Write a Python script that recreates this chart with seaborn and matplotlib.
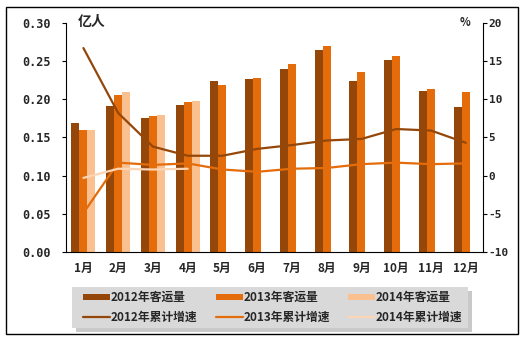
import numpy as np
import pandas as pd
import matplotlib
matplotlib.use("Agg")
import matplotlib.pyplot as plt
from matplotlib.patches import Rectangle
from matplotlib.lines import Line2D
import seaborn as sns

months = ["1月", "2月", "3月", "4月", "5月", "6月", "7月", "8月", "9月", "10月", "11月", "12月"]

# passenger volume (100 million persons)
vol_2012 = [0.169, 0.191, 0.176, 0.193, 0.224, 0.227, 0.240, 0.265, 0.224, 0.252, 0.211, 0.190]
vol_2013 = [0.160, 0.206, 0.178, 0.197, 0.219, 0.228, 0.246, 0.270, 0.236, 0.257, 0.214, 0.210]
vol_2014 = [0.160, 0.210, 0.179, 0.198]

# cumulative growth (%)
gr_2012 = [16.7, 8.2, 3.8, 2.6, 2.6, 3.5, 4.0, 4.6, 4.8, 6.1, 5.9, 4.3]
gr_2013 = [-4.9, 1.7, 1.4, 1.6, 0.8, 0.5, 0.9, 1.0, 1.5, 1.7, 1.5, 1.6]
gr_2014 = [-0.3, 0.9, 0.8, 0.9]

bar_names = ["2012年客运量", "2013年客运量", "2014年客运量"]
line_names = ["2012年累计增速", "2013年累计增速", "2014年累计增速"]
left_ticks = [0.00, 0.05, 0.10, 0.15, 0.20, 0.25, 0.30]
right_ticks = [-10, -5, 0, 5, 10, 15, 20]

bar_colors = ["#944709", "#E46C0A", "#FAC090"]
line_colors = ["#944709", "#E46C0A", "#FCD5B5"]

sns.set_theme(style="white")
plt.rcParams["font.family"] = ["Noto Sans CJK SC", "DejaVu Sans"]

rows = []
for name, vals in zip(bar_names, [vol_2012, vol_2013, vol_2014]):
    for m, v in zip(months, vals):
        rows.append({"month": m, "series": name, "value": v})
bars = pd.DataFrame(rows)

lrows = []
for name, vals in zip(line_names, [gr_2012, gr_2013, gr_2014]):
    for i, v in enumerate(vals):
        lrows.append({"pos": i, "series": name, "value": v})
lines = pd.DataFrame(lrows)

fig = plt.figure(figsize=(5.24, 3.41), dpi=100)
ax = fig.add_axes([0.126, 0.261, 0.796, 0.672])

sns.barplot(data=bars, x="month", y="value", hue="series", order=months,
            hue_order=bar_names, palette=bar_colors, width=0.69, gap=0,
            saturation=1, legend=False, ax=ax, linewidth=0)

ax.set_ylim(0, 0.30)
ax.set_xlim(-0.5, 11.5)
ax.set_yticks(left_ticks)
ax.set_yticklabels([f"{t:.2f}" for t in left_ticks], fontsize=8.5,
                   fontweight="bold", family=["DejaVu Sans Mono", "DejaVu Sans"])
ax.set_xticks(range(len(months)))
ax.set_xticklabels(months, fontsize=8.5, fontweight="bold")
ax.set_xlabel("")
ax.set_ylabel("")
ax.set_xticks(np.arange(-0.5, 12, 1), minor=True)
ax.tick_params(axis="x", which="major", length=0, pad=7)
ax.tick_params(axis="x", which="minor", length=3, width=0.8, color="black", direction="out")
ax.tick_params(axis="y", length=3, width=0.8, color="black", direction="out", left=True, pad=8)
for side in ["top", "right"]:
    ax.spines[side].set_visible(False)
for side in ["left", "bottom"]:
    ax.spines[side].set_color("black")
    ax.spines[side].set_linewidth(0.8)

ax2 = ax.twinx()
sns.lineplot(data=lines, x="pos", y="value", hue="series", hue_order=line_names,
             palette=line_colors, linewidth=1.6, legend=False, ax=ax2)
ax2.set_ylim(-10, 20)
ax2.set_xlim(-0.5, 11.5)
ax2.set_yticks(right_ticks)
ax2.set_yticklabels([str(t) for t in right_ticks], fontsize=8, fontweight="bold",
                    family=["DejaVu Sans Mono", "DejaVu Sans"])
ax2.set_ylabel("")
ax2.tick_params(axis="y", length=3, width=0.8, color="black", direction="out", right=True, pad=1)
for side in ["top", "left", "bottom"]:
    ax2.spines[side].set_visible(False)
ax2.spines["right"].set_color("black")
ax2.spines["right"].set_linewidth(0.8)

fig.text(0.148, 0.935, "亿人", fontsize=10, fontweight="bold", ha="left", va="center")
fig.text(0.888, 0.935, "%", fontsize=8, fontweight="bold", ha="center", va="center")

# legend panel with drop shadow
lx0, ly0, lw, lh = 0.137, 0.038, 0.756, 0.120
fig.patches.append(Rectangle((lx0 + 0.008, ly0 - 0.012), lw, lh, transform=fig.transFigure,
                             facecolor="#A6A6A6", edgecolor="none", alpha=0.6, zorder=1))
fig.patches.append(Rectangle((lx0, ly0), lw, lh, transform=fig.transFigure,
                             facecolor="#D9D9D9", edgecolor="none", zorder=2))
col_x = [0.158, 0.412, 0.664]
row_y = [0.129, 0.070]
for i in range(3):
    x = col_x[i]
    fig.patches.append(Rectangle((x, row_y[0] - 0.010), 0.052, 0.020, transform=fig.transFigure,
                                 facecolor=bar_colors[i], edgecolor="none", zorder=3))
    fig.text(x + 0.053, row_y[0], bar_names[i], fontsize=8.5, fontweight="bold",
             ha="left", va="center", zorder=4)
    fig.lines.append(Line2D([x, x + 0.052], [row_y[1], row_y[1]], transform=fig.transFigure,
                            color=line_colors[i], linewidth=1.6, zorder=3))
    fig.text(x + 0.053, row_y[1], line_names[i], fontsize=8.5, fontweight="bold",
             ha="left", va="center", zorder=4)

# outer frame
fig.patches.append(Rectangle((0.011, 0.020), 0.978, 0.960, transform=fig.transFigure,
                             facecolor="none", edgecolor="black", linewidth=1.0, zorder=5))

fig.savefig("out.png", dpi=100)
